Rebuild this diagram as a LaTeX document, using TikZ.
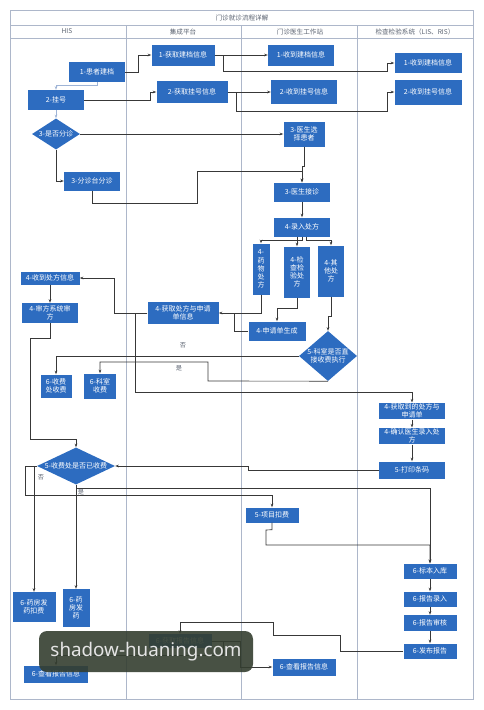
\documentclass[tikz,border=0pt]{standalone}
\usepackage{fontspec}
\setmainfont{Noto Sans CJK SC}
\newfontfamily\wmfont{Noto Sans}
\usetikzlibrary{shapes.geometric,arrows.meta}
\definecolor{nodeblue}{HTML}{2D6CC0}
\definecolor{lanecol}{HTML}{ADB7CA}
\definecolor{conncol}{HTML}{383838}
\definecolor{lightconn}{HTML}{9FB4D6}
\definecolor{headcol}{HTML}{5A6270}
\definecolor{wmcol}{HTML}{343E30}
\begin{document}
\begin{tikzpicture}[x=1pt,y=-1pt,
  bluebox/.style={fill=nodeblue, text=white, align=center, inner sep=1pt,
    font=\fontsize{7}{8.2}\selectfont},
  diabox/.style={diamond, fill=nodeblue, inner sep=0pt},
  wtext/.style={text=white, align=center, inner sep=0pt, font=\fontsize{7}{8.2}\selectfont},
  lane/.style={draw=lanecol, line width=0.7pt},
  headtext/.style={text=headcol, font=\fontsize{6.6}{7.5}\selectfont, inner sep=0pt},
  conn/.style={draw=conncol, line width=0.65pt, -{Stealth[length=3.6pt,width=2.6pt]}},
  plain/.style={draw=conncol, line width=0.65pt},
  lconn/.style={draw=lightconn, line width=0.6pt, -{Stealth[length=3.6pt,width=2.6pt]}},
  lbl/.style={text=headcol, font=\fontsize{6.2}{7}\selectfont, inner sep=0pt}]
\useasboundingbox (0,0) rectangle (483,710);
% frame and lanes
\draw[lane] (10,10) rectangle (473,699);
\draw[lane] (10,25) -- (473,25);
\draw[lane] (10,38) -- (473,38);
\draw[lane] (126,25) -- (126,699);
\draw[lane] (241,25) -- (241,699);
\draw[lane] (357,25) -- (357,699);
\node[headtext] (title) at (242,17.5) {门诊就诊流程详解};
\node[headtext] (h1) at (67,31.5) {HIS};
\node[headtext] (h2) at (183,31.5) {集成平台};
\node[headtext] (h3) at (300,31.5) {门诊医生工作站};
\node[headtext] (h4) at (415,31.5) {检查检验系统（LIS、RIS）};
% nodes
\node[bluebox, minimum width=56pt, minimum height=20pt] (jd) at (97,72) {1-患者建档};
\node[bluebox, minimum width=56pt, minimum height=20pt] (gh) at (56,100) {2-挂号};
\node[bluebox, minimum width=63pt, minimum height=21pt] (hq1) at (183,55) {1-获取建档信息};
\node[bluebox, minimum width=71pt, minimum height=22pt] (hq2) at (192,92) {2-获取挂号信息};
\node[bluebox, minimum width=66pt, minimum height=21pt] (sd1) at (301,55) {1-收到建档信息};
\node[bluebox, minimum width=66pt, minimum height=24pt] (sd2) at (304,92) {2-收到挂号信息};
\node[bluebox, minimum width=67pt, minimum height=20pt] (ls1) at (428,63) {1-收到建档信息};
\node[bluebox, minimum width=67pt, minimum height=25pt] (ls2) at (428,92) {2-收到挂号信息};
\node[diabox, minimum width=48pt, minimum height=31pt] (d1) at (56,134) {};
\node[wtext] (d1t) at (d1) {3-是否分诊};
\node[bluebox, minimum width=41pt, minimum height=25pt] (xz) at (304,134) {3-医生选\\择患者};
\node[bluebox, minimum width=56pt, minimum height=19pt] (fz) at (92,181) {3-分诊台分诊};
\node[bluebox, minimum width=56pt, minimum height=19pt] (jz) at (302,192) {3-医生接诊};
\node[bluebox, minimum width=56pt, minimum height=19pt] (lr) at (302,227) {4-录入处方};
\node[bluebox, minimum width=17pt, minimum height=51pt] (yw) at (261,269) {4-\\药\\物\\处\\方};
\node[bluebox, minimum width=26pt, minimum height=51pt] (jc) at (297,272) {4-检\\查检\\验处\\方};
\node[bluebox, minimum width=26pt, minimum height=51pt] (qt) at (331,271) {4-其\\他处\\方};
\node[bluebox, minimum width=59pt, minimum height=13pt] (sc) at (50,278) {4-收到处方信息};
\node[bluebox, minimum width=56pt, minimum height=20pt] (sf) at (50,313) {4-审方系统审\\方};
\node[bluebox, minimum width=71pt, minimum height=22pt] (hq3) at (183,313) {4-获取处方与申请\\单信息};
\node[bluebox, minimum width=57pt, minimum height=19pt] (sq) at (277,331) {4-申请单生成};
\node[diabox, minimum width=58pt, minimum height=50pt] (d3) at (328,356) {};
\node[wtext] (d3t) at (d3) {5-科室是否直\\接收费执行};
\node[bluebox, minimum width=31pt, minimum height=23pt] (sfs) at (56,386) {6-收费\\处收费};
\node[bluebox, minimum width=32pt, minimum height=25pt] (ks) at (100,386) {6-科室\\收费};
\node[bluebox, minimum width=66pt, minimum height=16pt] (hd) at (412,411) {4-获取到的处方与\\申请单};
\node[bluebox, minimum width=66pt, minimum height=16pt] (qr) at (412,436) {4-确认医生录入处\\方};
\node[bluebox, minimum width=66pt, minimum height=17pt] (dy) at (412,470) {5-打印条码};
\node[diabox, minimum width=78pt, minimum height=37pt] (d2) at (76,466) {};
\node[wtext] (d2t) at (d2) {5-收费处是否已收费};
\node[bluebox, minimum width=53pt, minimum height=15pt] (xm) at (272,515) {5-项目扣费};
\node[bluebox, minimum width=53pt, minimum height=15pt] (bb) at (430,571) {6-标本入库};
\node[bluebox, minimum width=53pt, minimum height=15pt] (bl) at (430,599) {6-报告录入};
\node[bluebox, minimum width=53pt, minimum height=16pt] (bs) at (430,623) {6-报告审核};
\node[bluebox, minimum width=53pt, minimum height=15pt] (fb) at (430,651) {6-发布报告};
\node[bluebox, minimum width=43pt, minimum height=30pt] (yff) at (34,607) {6-药房发\\药扣费};
\node[bluebox, minimum width=27pt, minimum height=38pt] (yf) at (76,608) {6-药\\房发\\药};
\node[bluebox, minimum width=63pt, minimum height=14pt] (hqb) at (180,641) {6-获取报告信息};
\node[bluebox, minimum width=63pt, minimum height=17pt] (ck2) at (304,667) {6-查看报告信息};
\node[bluebox, minimum width=64pt, minimum height=17pt] (ck1) at (56,674) {6-查看报告信息};
% connectors
\draw[conn] (jd.east) -- (138,72) |- (hq1.west);
\draw[conn] (hq1.east) -- (sd1.west);
\draw[conn] (hq1.east) -- (223,55) |- (387,71) |- (ls1.west);
\draw[conn] (gh.east) -- (150,100) |- (hq2.west);
\draw[conn] (hq2.east) -- (sd2.west);
\draw[conn] (hq2.east) -- (236,92) |- (387,111) |- (ls2.west);
\draw[lconn] (jd.south) -- (97,85) -| (gh.north);
\draw[lconn] (gh.south) -- (d1.north);
\draw[conn] (d1.east) -- (xz.west);
\draw[conn] (d1.south) |- (fz.west);
\draw[conn] (fz.south) -- (92,203) -- (197,203) -- (197,171) -| (jz.north);
\draw[conn] (xz.south) -- (304,166) -| (jz.north);
\draw[conn] (jz.south) -- (lr.north);
\draw[conn] (lr.south) -- ++(0,3.5) -| (yw.north);
\draw[conn] ([xshift=-5pt]lr.south) -- (jc.north);
\draw[conn] ([xshift=4pt]lr.south) -- ++(0,3.5) -| (qt.north);
\draw[conn] (yw.south) |- (hq3.east);
\draw[plain] (sq.west) -- (234,331) -- (234,313);
\draw[conn] (jc.south) -- ++(0,11) -| (sq.north);
\draw[conn] (qt.south) -- ++(0,20) -| (d3.north);
\draw[conn] (hq3.west) -- (114,313) |- (sc.east);
\draw[conn] (sc.south) -- (sf.north);
\draw[conn] (hq3.west) -- (135,313) -- (135,392) -| (hd.north);
\draw[conn] (d3.west) -| (sfs.north);
\node[lbl] (no1) at (183,345) {否};
\draw[conn] (d3.south) -- (208,381) -- (208,362) -| (ks.north);
\node[lbl] (yes1) at (179,368) {是};
\draw[conn] (hd.south) -- (qr.north);
\draw[conn] (qr.south) -- (dy.north);
\draw[conn] (dy.west) -- (248,470) |- (d2.east);
\draw[conn] (sf.south) -- (50,338) -- (30,338) -- (30,439) -| (d2.north);
\draw[conn] (d2.west) -- (25,466) -- (25,495) -| (xm.north);
\draw[conn] (d2.west -| yff.north) -- (yff.north);
\node[lbl] (no2) at (41,477) {否};
\draw[conn] (d2.south) -- (yf.north);
\draw[conn] (d2.south) -- ++(0,3.5) -| (bb.north);
\node[lbl] (yes2) at (81,492) {是};
\draw[conn] (xm.south) -- ++(0,7) -- (266,530) -- (266,545) -| (bb.north);
\draw[conn] (bb.south) -- (bl.north);
\draw[conn] (bl.south) -- (bs.north);
\draw[conn] (bs.south) -- (fb.north);
\draw[conn] (fb.west) -- (340,651) -- (340,635) -- (273,635) -- (273,622) -| (hqb.north);
\draw[conn] (hqb.east) -- (240,641) |- (ck2.west);
\draw[conn] (hqb.east) -- (223,641) -- (223,655) -| (ck1.north);
% watermark
\node[fill=wmcol, fill opacity=0.9, text opacity=1, rounded corners=8pt,
  minimum width=214pt, minimum height=41pt, inner sep=0pt,
  text=white!90!black, font=\wmfont\fontsize{18.8}{21}\selectfont] (wm) at (146,651.5) {shadow-huaning.com};
\end{tikzpicture}
\end{document}
